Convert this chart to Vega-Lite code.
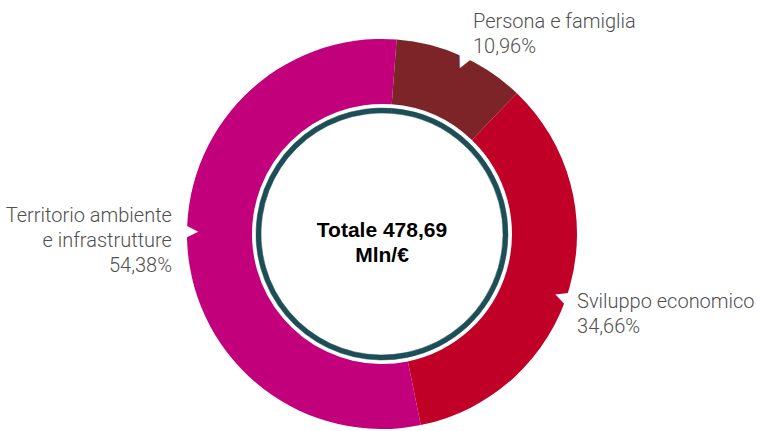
{
  "$schema": "https://vega.github.io/schema/vega-lite/v6.json",
  "width": 764,
  "height": 394,
  "autosize": {"type": "none"},
  "padding": {"top": 37, "left": 0, "right": 0, "bottom": 0},
  "view": {"stroke": null},
  "background": "white",
  "layer": [
    {
      "data": {"values": [
        {"o": 1, "cat": "Persona e famiglia", "label": "Persona e famiglia", "pct": 10.96},
        {"o": 2, "cat": "Sviluppo economico", "label": "Sviluppo economico", "pct": 34.66},
        {"o": 3, "cat": "Territorio ambiente e infrastrutture", "label": "Territorio ambiente\ne infrastrutture", "pct": 54.38}
      ]},
      "transform": [
        {"calculate": "datum.label + '\\n' + replace(format(datum.pct, '.2f'), '.', ',') + '%'", "as": "txt"}
      ],
      "encoding": {
        "theta": {"field": "pct", "type": "quantitative", "stack": true, "scale": {"range": [0.075, 6.3582]}},
        "order": {"field": "o", "type": "quantitative"},
        "detail": {"field": "cat", "type": "nominal"}
      },
      "layer": [
        {
          "mark": {"type": "arc", "outerRadius": 195, "innerRadius": 130},
          "encoding": {
            "color": {"field": "cat", "type": "nominal", "legend": null,
              "scale": {"domain": ["Persona e famiglia", "Sviluppo economico", "Territorio ambiente e infrastrutture"],
                        "range": ["#7c2428", "#c10028", "#c2007b"]}}
          }
        },
        {
          "mark": {"type": "arc", "outerRadius": 126, "innerRadius": 121, "color": "#1d4e56", "stroke": "#1d4e56", "strokeWidth": 0.5}
        },
        {
          "mark": {"type": "text", "radius": 190, "thetaOffset": 0.023, "angle": 115.4, "font": "DejaVu Sans", "fontSize": 17, "align": "center", "baseline": "middle", "color": "white"},
          "encoding": {"text": {"condition": {"test": "datum.o === 1", "value": "▶"}, "value": ""}}
        },
        {
          "mark": {"type": "text", "radius": 190, "thetaOffset": 0.058, "angle": 199.5, "font": "DejaVu Sans", "fontSize": 16, "align": "center", "baseline": "middle", "color": "white"},
          "encoding": {"text": {"condition": {"test": "datum.o === 2", "value": "▶"}, "value": ""}}
        },
        {
          "mark": {"type": "text", "radius": 190, "thetaOffset": 0.079, "angle": 0.9, "font": "DejaVu Sans", "fontSize": 16, "align": "center", "baseline": "middle", "color": "white"},
          "encoding": {"text": {"condition": {"test": "datum.o === 3", "value": "▶"}, "value": ""}}
        },
        {
          "mark": {"type": "text", "radius": 224.9, "thetaOffset": -0.003, "align": "left", "baseline": "alphabetic", "lineBreak": "\n", "lineHeight": 25, "font": "Roboto", "fontWeight": 300, "fontSize": 20, "color": "#505050"},
          "encoding": {"text": {"condition": {"test": "datum.o === 1", "field": "txt", "type": "nominal"}, "value": ""}}
        },
        {
          "mark": {"type": "text", "radius": 208.7, "thetaOffset": 0.082, "align": "left", "baseline": "alphabetic", "lineBreak": "\n", "lineHeight": 25, "font": "Roboto", "fontWeight": 300, "fontSize": 20, "color": "#505050"},
          "encoding": {"text": {"condition": {"test": "datum.o === 2", "field": "txt", "type": "nominal"}, "value": ""}}
        },
        {
          "mark": {"type": "text", "radius": 210.4, "thetaOffset": 0.121, "align": "right", "baseline": "alphabetic", "lineBreak": "\n", "lineHeight": 25, "font": "Roboto", "fontWeight": 300, "fontSize": 20, "color": "#505050"},
          "encoding": {"text": {"condition": {"test": "datum.o === 3", "field": "txt", "type": "nominal"}, "value": ""}}
        }
      ]
    },
    {
      "data": {"values": [{"t": "Totale 478,69\nMln/€"}]},
      "mark": {"type": "text", "align": "center", "baseline": "alphabetic", "dy": 2.7, "lineBreak": "\n", "lineHeight": 25, "font": "Liberation Sans", "fontWeight": "bold", "fontSize": 21, "color": "#000000"},
      "encoding": {"text": {"field": "t", "type": "nominal"}}
    }
  ]
}
